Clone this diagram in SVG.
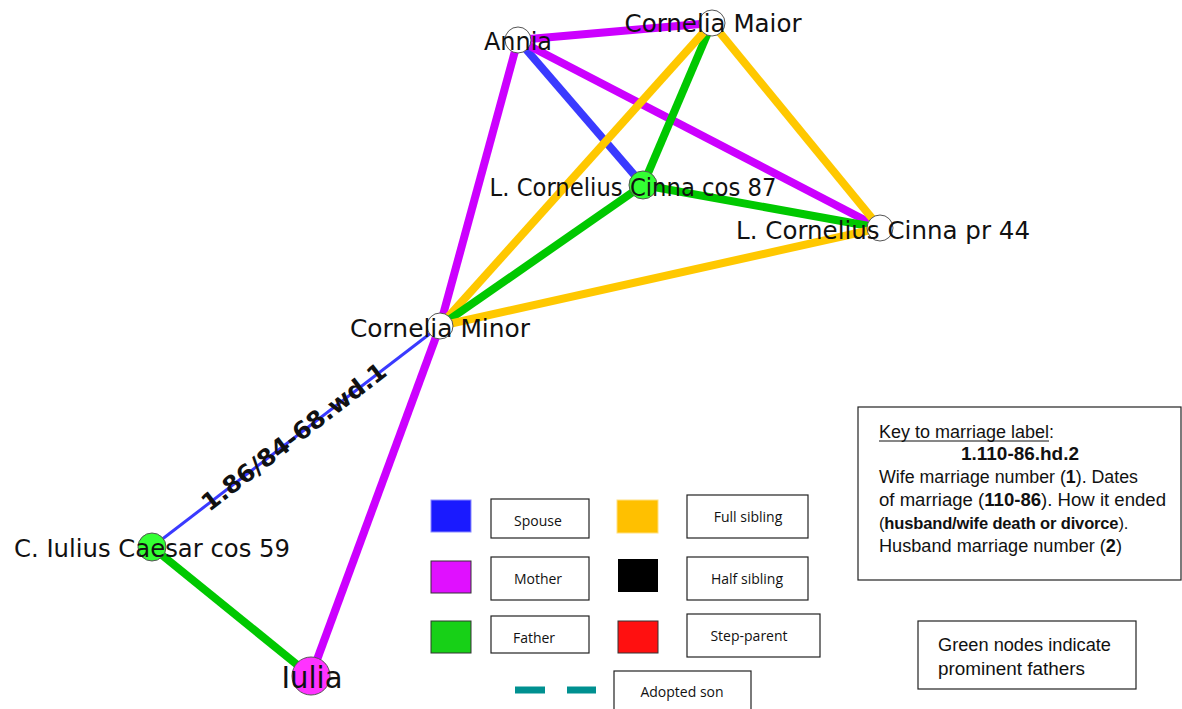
<svg xmlns="http://www.w3.org/2000/svg" width="1182" height="709" viewBox="0 0 1182 709">
  <style>
    .edge { fill: none; stroke-width: 8; stroke-linecap: butt; }
    .spouse { stroke: #3a3aff; }
    .mother { stroke: #cc00ff; }
    .father { stroke: #00c800; }
    .sibling { stroke: #ffc800; }
    .node { stroke: #555; stroke-width: 1; }
    .plain { fill: #ffffff; }
    .prominent { fill: #33ff33; }
    .nlabel { font-family: "DejaVu Sans", sans-serif; font-size: 24.5px; fill: #111; text-anchor: middle; }
    .box { fill: #fff; stroke: #222; stroke-width: 1.2; }
    .ltext { font-family: "Open Sans", "Liberation Sans", sans-serif; font-size: 14px; fill: #111; text-anchor: middle; }
    .ktext { font-family: "Liberation Sans", sans-serif; font-size: 17.5px; fill: #111; }
  </style>

  <!-- connectors -->
  <g id="connectors">
    <line class="edge mother" x1="518" y1="40" x2="712" y2="23"/>
    <line class="edge spouse" x1="518" y1="40" x2="643" y2="185"/>
    <line class="edge mother" x1="518" y1="40" x2="880" y2="228"/>
    <line class="edge mother" x1="518" y1="40" x2="440" y2="326"/>
    <line class="edge father" x1="712" y1="23" x2="643" y2="185"/>
    <line class="edge sibling" x1="712" y1="23" x2="880" y2="228"/>
    <line class="edge sibling" x1="712" y1="23" x2="440" y2="326"/>
    <line class="edge father" x1="643" y1="185" x2="880" y2="228"/>
    <line class="edge father" x1="643" y1="185" x2="440" y2="326"/>
    <line class="edge sibling" x1="880" y1="228" x2="440" y2="326"/>
    <line class="edge spouse" style="stroke-width:3" x1="440" y1="326" x2="152" y2="547"/>
    <line class="edge mother" x1="440" y1="326" x2="311" y2="676"/>
    <line class="edge father" x1="152" y1="547" x2="311" y2="676"/>
    <text transform="translate(294,437) rotate(-37.5)" text-anchor="middle" dy="8" font-family="DejaVu Sans, sans-serif" font-size="24" font-weight="bold" fill="#111" textLength="226" lengthAdjust="spacingAndGlyphs">1.86/84-68.wd.1</text>
  </g>

  <!-- people -->
  <g id="annia">
    <circle class="node plain" cx="518" cy="40" r="13"/>
    <text class="nlabel" x="518" y="50" textLength="68" lengthAdjust="spacingAndGlyphs">Annia</text>
  </g>
  <g id="cornelia-maior">
    <circle class="node plain" cx="712" cy="23" r="13"/>
    <text class="nlabel" x="713" y="32" textLength="177" lengthAdjust="spacingAndGlyphs">Cornelia Maior</text>
  </g>
  <g id="cinna-cos-87">
    <circle class="node prominent" cx="643" cy="185" r="14"/>
    <text class="nlabel" x="633" y="196" textLength="287" lengthAdjust="spacingAndGlyphs">L. Cornelius Cinna cos 87</text>
  </g>
  <g id="cinna-pr-44">
    <circle class="node plain" cx="880" cy="228" r="13"/>
    <text class="nlabel" x="883" y="239" textLength="294" lengthAdjust="spacingAndGlyphs">L. Cornelius Cinna pr 44</text>
  </g>
  <g id="cornelia-minor">
    <circle class="node plain" cx="440" cy="326" r="13"/>
    <text class="nlabel" x="440" y="337" textLength="180" lengthAdjust="spacingAndGlyphs">Cornelia Minor</text>
  </g>
  <g id="caesar">
    <circle class="node prominent" cx="152" cy="547" r="14"/>
    <text class="nlabel" x="152" y="557" textLength="276" lengthAdjust="spacingAndGlyphs">C. Iulius Caesar cos 59</text>
  </g>
  <g id="iulia">
    <circle class="node" fill="#ff33ff" cx="311" cy="676" r="19"/>
    <text class="nlabel" x="312" y="688" style="font-size:31px" textLength="61" lengthAdjust="spacingAndGlyphs">Iulia</text>
  </g>

  <!-- legend -->
  <g id="legend">
    <rect x="431" y="500" width="40" height="32" fill="#1a1aff" stroke="#8a8aff" stroke-width="1"/>
    <rect class="box" x="491" y="499" width="98" height="39"/>
    <text class="ltext" x="538" y="526">Spouse</text>

    <rect x="617" y="500" width="41" height="33" fill="#ffc000" stroke="#ffe080" stroke-width="1"/>
    <rect class="box" x="687" y="495" width="121" height="43"/>
    <text class="ltext" x="748" y="522">Full sibling</text>

    <rect x="431" y="561" width="40" height="32" fill="#e010ff" stroke="#333" stroke-width="1"/>
    <rect class="box" x="491" y="557" width="98" height="43"/>
    <text class="ltext" x="538" y="584">Mother</text>

    <rect x="618" y="559" width="40" height="33" fill="#000"/>
    <rect class="box" x="687" y="557" width="121" height="43"/>
    <text class="ltext" x="747" y="584">Half sibling</text>

    <rect x="431" y="621" width="40" height="32" fill="#17d017" stroke="#333" stroke-width="1"/>
    <rect class="box" x="491" y="616" width="98" height="37"/>
    <text class="ltext" x="534" y="643">Father</text>

    <rect x="618" y="621" width="40" height="32" fill="#ff1010" stroke="#333" stroke-width="1"/>
    <rect class="box" x="687" y="614" width="133" height="43"/>
    <text class="ltext" x="749" y="641">Step-parent</text>

    <line x1="515" y1="690" x2="545" y2="690" stroke="#009090" stroke-width="7"/>
    <line x1="567" y1="690" x2="596" y2="690" stroke="#009090" stroke-width="7"/>
    <rect class="box" x="614" y="671" width="137" height="44"/>
    <text class="ltext" x="682" y="697">Adopted son</text>
  </g>

  <!-- marriage label key -->
  <g id="marriage-key">
    <rect class="box" x="858" y="407" width="323" height="173"/>
    <text class="ktext" x="879" y="438" textLength="175" lengthAdjust="spacingAndGlyphs">Key to marriage label:</text>
    <line x1="879" y1="441" x2="1049" y2="441" stroke="#111" stroke-width="1.2"/>
    <text class="ktext" x="1020" y="460" text-anchor="middle" font-weight="bold" textLength="118" lengthAdjust="spacingAndGlyphs">1.110-86.hd.2</text>
    <text class="ktext" x="879" y="483" textLength="259" lengthAdjust="spacingAndGlyphs">Wife marriage number (<tspan font-weight="bold">1</tspan>). Dates</text>
    <text class="ktext" x="879" y="506" textLength="287" lengthAdjust="spacingAndGlyphs">of marriage (<tspan font-weight="bold">110-86</tspan>). How it ended</text>
    <text class="ktext" x="879" y="529" style="font-size:16.5px" letter-spacing="-0.15">(<tspan font-weight="bold">husband/wife death or divorce</tspan>).</text>
    <text class="ktext" x="879" y="552" textLength="243" lengthAdjust="spacingAndGlyphs">Husband marriage number (<tspan font-weight="bold">2</tspan>)</text>
  </g>

  <g id="green-note">
    <rect class="box" x="918" y="621" width="218" height="68"/>
    <text class="ktext" x="938" y="651" textLength="173" lengthAdjust="spacingAndGlyphs">Green nodes indicate</text>
    <text class="ktext" x="938" y="675" textLength="147" lengthAdjust="spacingAndGlyphs">prominent fathers</text>
  </g>
</svg>
